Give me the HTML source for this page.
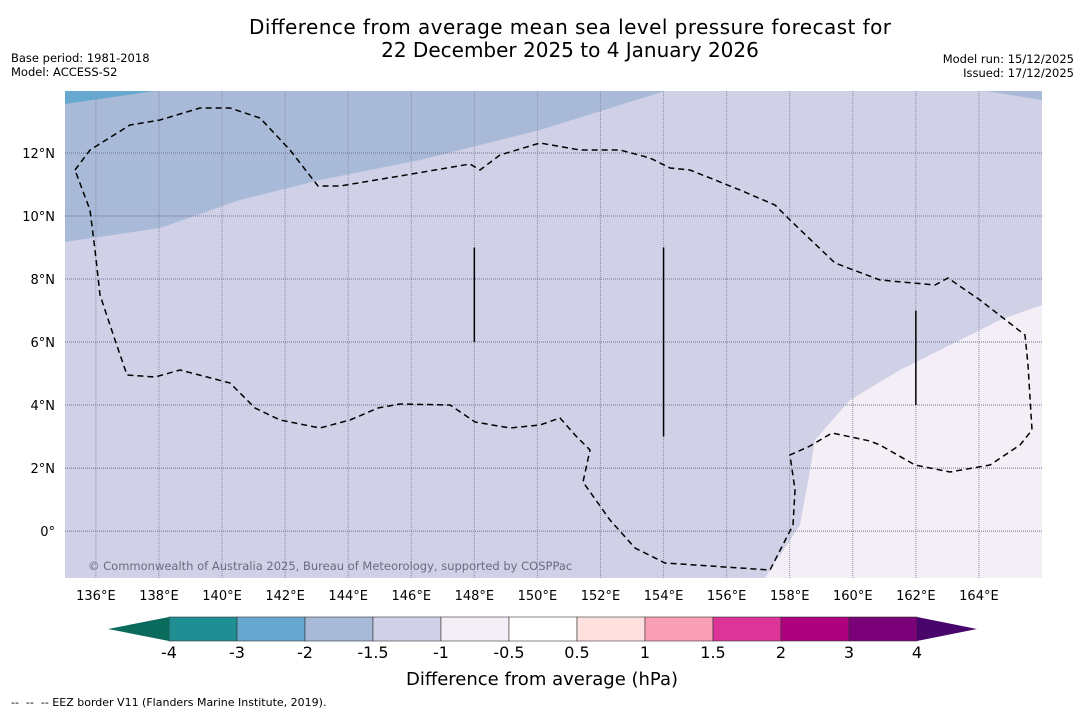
<!DOCTYPE html>
<html><head><meta charset="utf-8">
<style>
body{margin:0;background:#fff;font-family:"DejaVu Sans",sans-serif;}
svg{display:block;font-family:"DejaVu Sans",sans-serif;}
text{white-space:pre}
</style></head>
<body>
<svg id="chart" width="1085" height="713">
<rect width="1085" height="713" fill="#fff"/>
<text x="570" y="34" font-size="20" text-anchor="middle" fill="#000" textLength="642">Difference from average mean sea level pressure forecast for</text>
<text x="570" y="57" font-size="20" text-anchor="middle" fill="#000">22 December 2025 to 4 January 2026</text>
<text x="11" y="62" font-size="11.5">Base period: 1981-2018</text>
<text x="11" y="76" font-size="11.5">Model: ACCESS-S2</text>
<text x="1074" y="63" font-size="11.5" text-anchor="end">Model run: 15/12/2025</text>
<text x="1074" y="77" font-size="11.5" text-anchor="end">Issued: 17/12/2025</text>
<g id="map"></g>
<g id="cbar"></g>
<text x="542" y="685" font-size="18" text-anchor="middle">Difference from average (hPa)</text>
<text x="11" y="706" font-size="11">--  --  -- EEZ border V11 (Flanders Marine Institute, 2019).</text>
</svg>
<script>
const lonTicks=[136,138,140,142,144,146,148,150,152,154,156,158,160,162,164];
const latTicks=[0,2,4,6,8,10,12];
const cbarBounds=["-4","-3","-2","-1.5","-1","-0.5","0.5","1","1.5","2","3","4"];
const cbarColors=["#1f8f94","#66a8cf","#a8bad7","#d0d1e6","#f4eef6","#ffffff","#fee0de","#f99fb5","#dd3497","#ae017e","#7a0177"];
const cbarEnds=["#0a6b5c","#49066a"];
const NS="http://www.w3.org/2000/svg";
const L=65,R=1042,T=91,B=578;
const lonMin=135.02,lonMax=166.0,latMin=-1.49,latMax=13.97;
const x=lon=>L+(lon-lonMin)/(lonMax-lonMin)*(R-L);
const y=lat=>B-(lat-latMin)/(latMax-latMin)*(B-T);
function mk(tag,attrs,parent){const e=document.createElementNS(NS,tag);for(const k in attrs)e.setAttribute(k,attrs[k]);parent.appendChild(e);return e;}
const map=document.getElementById('map');
mk('rect',{x:L,y:T,width:R-L,height:B-T,fill:'#d0d1e6'},map);
let p=mk('path',{d:'M65,91 L665,91 L540,130 L420,160 L320,180 L240,200 L160,228 L65,242 Z',fill:'#a8bad7'},map);


p=mk('path',{d:'M65,91 L155,91 L65,104 Z',fill:'#66a8cf'},map);


p=mk('path',{d:'M985,91 L1042,91 L1042,100 Z',fill:'#a8bad7'},map);


p=mk('path',{d:'M765,578 L800,525 L810,470 L815,440 L850,400 L900,370 L960,340 L1000,320 L1042,305 L1042,578 Z',fill:'#f4eef6'},map);


lonTicks.forEach(v=>{
  const l=mk('line',{x1:x(v),x2:x(v),y1:T,y2:B,stroke:'#8a8fa8','stroke-width':1,'stroke-dasharray':'1,1'},map);
  
  
  const t=mk('text',{x:x(v),y:600,'font-size':13,'text-anchor':'middle'},map);t.textContent=v+'°E';
  
  
});
latTicks.forEach(v=>{
  const l=mk('line',{x1:L,x2:R,y1:y(v),y2:y(v),stroke:'#6f7390','stroke-width':1,'stroke-dasharray':'1,1'},map);
  
  
  const t=mk('text',{x:55,y:y(v)+5,'font-size':13,'text-anchor':'end'},map);t.textContent=v===0?'0°':v+'°N';
  
  
});
const eez=[[75,170],[90,150],[130,125],[160,120],[200,108],[230,108],[260,118],[290,150],[318,186],[340,186],[400,176],[470,164],[480,170],[500,155],[540,143],[580,150],[620,150],[650,158],[670,168],[690,170],[740,190],[775,205],[790,220],[835,263],[880,280],[935,285],[948,278],[980,300],[1025,335],[1028,365],[1032,430],[1020,445],[990,465],[950,472],[915,465],[880,445],[870,441],[832,433],[810,446],[790,455],[795,490],[793,525],[770,570],[665,563],[635,548],[610,520],[583,482],[590,450],[575,435],[560,418],[540,425],[510,428],[475,422],[450,405],[400,404],[378,408],[350,420],[320,428],[280,420],[255,408],[230,383],[180,370],[155,377],[127,375],[115,340],[100,295],[95,250],[90,210],[75,170]];
p=mk('path',{d:'M'+eez.map(q=>q.join(',')).join(' L'),fill:'none',stroke:'#000','stroke-width':1.5,'stroke-dasharray':'6,4'},map);


[[148,9,6],[154,9,3],[162,7,4]].forEach(s=>{
  const l=mk('line',{x1:x(s[0]),x2:x(s[0]),y1:y(s[1]),y2:y(s[2]),stroke:'#000','stroke-width':1.5},map);
  
  
});
const cr=mk('text',{x:88,y:570,'font-size':11.5,fill:'#6a6a80'},map);cr.textContent='© Commonwealth of Australia 2025, Bureau of Meteorology, supported by COSPPac';


const cb=document.getElementById('cbar');
const cx0=169,cx1=917,cy0=617,cy1=641;
const bw=(cx1-cx0)/cbarColors.length;
cbarColors.forEach((c,i)=>{
  const r=mk('rect',{x:cx0+i*bw,y:cy0,width:bw,height:cy1-cy0,fill:c,stroke:'#333','stroke-width':0.6},cb);
  
  
});
p=mk('polygon',{points:`${cx0},${cy0} ${cx0},${cy1} 108,629`,fill:cbarEnds[0]},cb);


p=mk('polygon',{points:`${cx1},${cy0} ${cx1},${cy1} 977,629`,fill:cbarEnds[1]},cb);


cbarBounds.forEach((b,i)=>{
  const t=mk('text',{x:cx0+i*bw,y:658,'font-size':16,'text-anchor':'middle'},cb);t.textContent=b;
  
  
});
</script>
</body></html>
